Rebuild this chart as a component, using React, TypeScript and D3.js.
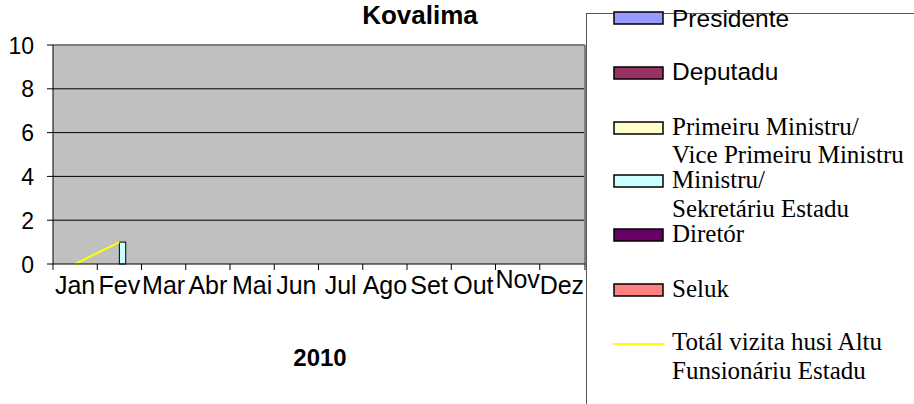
import React from "react";
import * as d3 from "d3";

const months = ["Jan", "Fev", "Mar", "Abr", "Mai", "Jun", "Jul", "Ago", "Set", "Out", "Nov", "Dez"];
const barSeries = ["Presidente", "Deputadu", "Primeiru Ministru/Vice Primeiru Ministru", "Ministru/Sekretáriu Estadu", "Diretór", "Seluk"];
const presidente = [0, 0, 0, 0, 0, 0, 0, 0, 0, 0, 0, 0];
const deputadu = [0, 0, 0, 0, 0, 0, 0, 0, 0, 0, 0, 0];
const primeiru = [0, 0, 0, 0, 0, 0, 0, 0, 0, 0, 0, 0];
const ministru = [0, 1, 0, 0, 0, 0, 0, 0, 0, 0, 0, 0];
const diretor = [0, 0, 0, 0, 0, 0, 0, 0, 0, 0, 0, 0];
const seluk = [0, 0, 0, 0, 0, 0, 0, 0, 0, 0, 0, 0];
const total: (number | null)[] = [0, 1, null, null, null, null, null, null, null, null, null, null];
const yTicks = [0, 2, 4, 6, 8, 10];

const barValues = [presidente, deputadu, primeiru, ministru, diretor, seluk];
const barColors = ["#9999FF", "#993366", "#FFFFCC", "#CCFFFF", "#660066", "#FF8080"];
const lineColor = "#FFFF00";

const legendItems = [
  { lines: ["Presidente"], color: barColors[0], serif: false, sy: 18, ty: [27] },
  { lines: ["Deputadu"], color: barColors[1], serif: false, sy: 73, ty: [80] },
  { lines: ["Primeiru Ministru/", "Vice Primeiru Ministru"], color: barColors[2], serif: true, sy: 128, ty: [135, 163] },
  { lines: ["Ministru/", "Sekretáriu Estadu"], color: barColors[3], serif: true, sy: 181, ty: [188, 217] },
  { lines: ["Diretór"], color: barColors[4], serif: true, sy: 235, ty: [242] },
  { lines: ["Seluk"], color: barColors[5], serif: true, sy: 290, ty: [297] },
];

export default function App() {
  const left = 53, right = 584, top = 45, bottom = 264;
  const x = d3.scaleBand<string>().domain(months).range([left, right]).padding(0);
  const y = d3.scaleLinear().domain([0, 10]).range([bottom, top]);
  const groupW = 38;
  const inner = d3.scaleBand<number>().domain(d3.range(barSeries.length)).range([-groupW / 2, groupW / 2]).padding(0);
  const cx = (m: string) => (x(m) as number) + x.bandwidth() / 2;
  const lineGen = d3.line<number | null>()
    .defined((d) => d !== null)
    .x((_, i) => cx(months[i]))
    .y((d) => y(d as number));
  const sans = "'Liberation Sans', Arial, sans-serif";
  const serif = "'Liberation Serif', 'Times New Roman', serif";

  return (
    <svg width={914} height={404} style={{ position: "absolute", left: 0, top: 0, background: "#fff" }} fontFamily={sans}>
      <rect x={0} y={0} width={914} height={404} fill="#fff" />
      {/* plot area */}
      <rect x={left} y={top} width={right - left} height={bottom - top} fill="#C0C0C0" />
      <line x1={left} x2={right + 1} y1={top} y2={top} stroke="#808080" strokeWidth={2} />
      <line x1={right + 1} x2={right + 1} y1={top} y2={bottom} stroke="#808080" strokeWidth={2} />
      {yTicks.filter((t) => t > 0 && t < 10).map((t) => (
        <line key={t} x1={left} x2={right} y1={y(t)} y2={y(t)} stroke="#000" strokeWidth={1} />
      ))}
      {/* bars */}
      {barValues.map((vals, si) =>
        vals.map((v, mi) =>
          v > 0 ? (
            <rect key={`${si}-${mi}`} x={cx(months[mi]) + (inner(si) as number)} y={y(v)} width={inner.bandwidth()} height={y(0) - y(v)} fill={barColors[si]} stroke="#000" strokeWidth={1} />
          ) : null
        )
      )}
      <path d={lineGen(total) || ""} fill="none" stroke={lineColor} strokeWidth={2} />
      {/* axes */}
      <line x1={left} x2={left} y1={top} y2={bottom} stroke="#000" />
      <line x1={left} x2={right + 1} y1={bottom} y2={bottom} stroke="#000" />
      {yTicks.map((t) => (
        <g key={t}>
          <line x1={left - 6} x2={left} y1={y(t)} y2={y(t)} stroke="#000" />
          <text x={34} y={y(t) + 8.5} textAnchor="end" fontSize={23} fill="#000">{t}</text>
        </g>
      ))}
      {months.map((m, i) => (
        <g key={m}>
          <line x1={x(m) as number} x2={x(m) as number} y1={bottom} y2={bottom + 6} stroke="#000" />
          <text x={cx(m)} y={m === "Nov" ? 288 : 294} textAnchor="middle" fontSize={25} fill="#000">{m}</text>
        </g>
      ))}
      <line x1={right + 1} x2={right + 1} y1={bottom} y2={bottom + 6} stroke="#000" />
      {/* titles */}
      <text x={420} y={24} textAnchor="middle" fontSize={26} fontWeight="bold" fill="#000">Kovalima</text>
      <text x={320} y={366} textAnchor="middle" fontSize={24} fontWeight="bold" fill="#000">2010</text>
      {/* legend */}
      <rect x={586.5} y={13.5} width={340} height={400} fill="#fff" stroke="#555" strokeWidth={1} />
      {legendItems.map((it, i) => (
        <g key={i}>
          <rect x={614} y={it.sy - 6} width={49} height={12} fill={it.color} stroke="#000" strokeWidth={1.5} />
          {it.lines.map((ln, j) => (
            <text key={j} x={672} y={it.ty[j]} fontSize={it.serif ? 25 : 24.5} fontFamily={it.serif ? serif : sans} fill="#000">{ln}</text>
          ))}
        </g>
      ))}
      <line x1={613} x2={665} y1={344} y2={344} stroke={lineColor} strokeWidth={2} />
      <text x={672} y={350} fontSize={25} fontFamily={serif} fill="#000">Totál vizita husi Altu</text>
      <text x={672} y={379} fontSize={25} fontFamily={serif} fill="#000">Funsionáriu Estadu</text>
    </svg>
  );
}
